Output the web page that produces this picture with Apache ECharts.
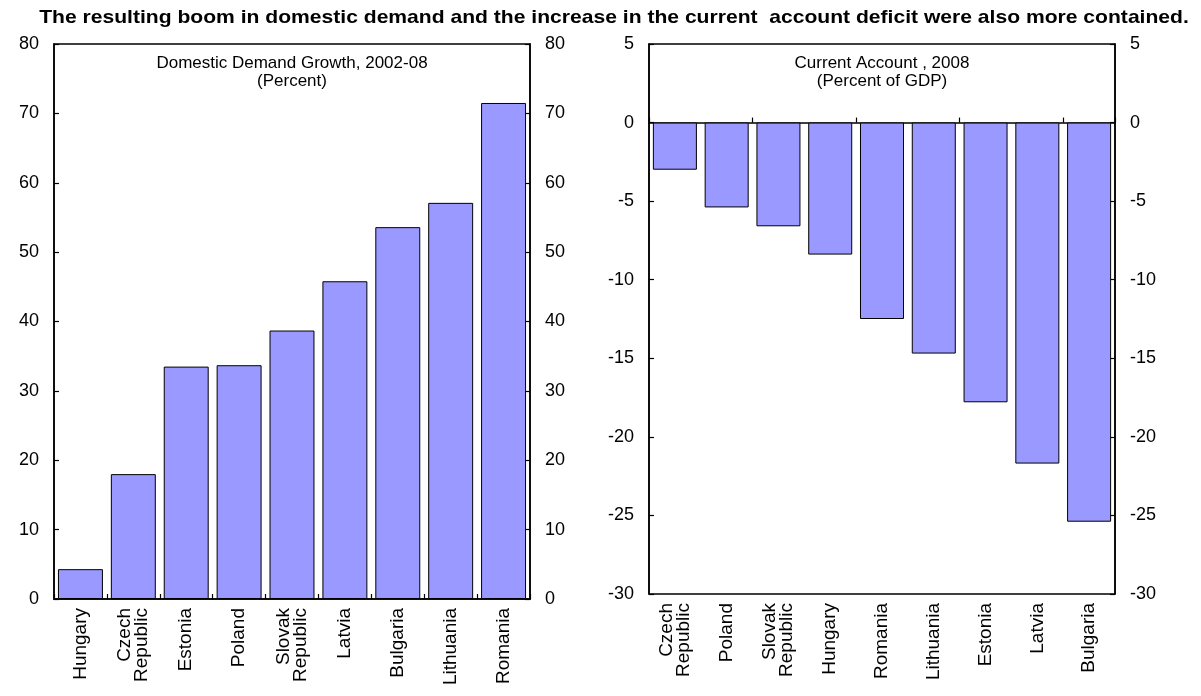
<!DOCTYPE html>
<html>
<head>
<meta charset="utf-8">
<script src="https://cdn.jsdelivr.net/npm/echarts@6/dist/echarts.min.js"></script>
<style>
  html, body { margin: 0; padding: 0; background: #fff; }
  #chart { width: 1201px; height: 696px; }
</style>
</head>
<body>
<div id="chart"></div>
<script>
// Domestic demand growth 2002-08 (percent)
const demandCountries = ['Hungary', 'Czech\nRepublic', 'Estonia', 'Poland', 'Slovak\nRepublic', 'Latvia', 'Bulgaria', 'Lithuania', 'Romania'];
const demandGrowth = [4.3, 18.0, 33.5, 33.7, 38.7, 45.8, 53.6, 57.1, 71.5];

// Current account balance 2008 (percent of GDP)
const caCountries = ['Czech\nRepublic', 'Poland', 'Slovak\nRepublic', 'Hungary', 'Romania', 'Lithuania', 'Estonia', 'Latvia', 'Bulgaria'];
const caBalance = [-3.0, -5.4, -6.6, -8.4, -12.5, -14.7, -17.8, -21.7, -25.4];

const headline = 'The resulting boom in domestic demand and the increase in the current  account deficit were also more contained.';
const leftTitle = ['Domestic Demand Growth, 2002-08', '(Percent)'];
const rightTitle = ['Current Account , 2008', '(Percent of GDP)'];

const FONT = '"Liberation Sans", Arial, sans-serif';
const BAR = '#9999FF';

function valueAxis(grid, pos, min, max, step) {
  return {
    type: 'value', gridIndex: grid, position: pos, min: min, max: max, interval: step,
    axisLine: { show: true, onZero: false, lineStyle: { color: '#000', width: 1.5 } },
    axisTick: { show: true, inside: true, length: 5, lineStyle: { color: '#000', width: 1.2 } },
    splitLine: { show: false },
    axisLabel: { color: '#000', fontSize: 18, fontFamily: FONT, margin: 15 }
  };
}

const catLabel = {
  rotate: 90, color: '#000', fontSize: 19, fontFamily: FONT, lineHeight: 17, margin: 9, interval: 0
};

const option = {
  backgroundColor: '#fff',
  animation: false,
  graphic: [
    { type: 'text', x: 614, y: 8, scaleX: 1.11,
      style: { text: headline, font: 'bold 19px ' + FONT, fill: '#000', align: 'center' } },
    { type: 'text', x: 292, y: 54,
      style: { text: leftTitle.join('\n'), font: '17px ' + FONT, fill: '#000', align: 'center', lineHeight: 18 } },
    { type: 'text', x: 882, y: 54,
      style: { text: rightTitle.join('\n'), font: '17px ' + FONT, fill: '#000', align: 'center', lineHeight: 18 } }
  ],
  grid: [
    { left: 54, top: 44, width: 476, height: 555, show: true, borderColor: '#000', borderWidth: 1.5, backgroundColor: 'transparent' },
    { left: 649, top: 44, width: 466, height: 550, show: true, borderColor: '#000', borderWidth: 1.5, backgroundColor: 'transparent' }
  ],
  xAxis: [
    { type: 'category', gridIndex: 0, data: demandCountries, position: 'bottom',
      axisLine: { show: true, lineStyle: { color: '#000', width: 1.5 } },
      axisTick: { show: true, inside: true, length: 5, lineStyle: { color: '#000', width: 1.2 } },
      axisLabel: catLabel },
    { type: 'category', gridIndex: 1, data: caCountries, position: 'bottom',
      axisLine: { show: true, onZero: true, lineStyle: { color: '#000', width: 1.5 } },
      axisTick: { show: true, inside: true, length: 5, lineStyle: { color: '#000', width: 1.2 } },
      axisLabel: { show: false } },
    { type: 'category', gridIndex: 1, data: caCountries, position: 'bottom',
      axisLine: { show: false, onZero: false },
      axisTick: { show: false },
      axisLabel: catLabel }
  ],
  yAxis: [
    valueAxis(0, 'left', 0, 80, 10),
    valueAxis(0, 'right', 0, 80, 10),
    valueAxis(1, 'left', -30, 5, 5),
    valueAxis(1, 'right', -30, 5, 5)
  ],
  series: [
    { type: 'bar', xAxisIndex: 0, yAxisIndex: 0, data: demandGrowth, barCategoryGap: '15%',
      itemStyle: { color: BAR, borderColor: '#000', borderWidth: 1 } },
    { type: 'bar', xAxisIndex: 1, yAxisIndex: 2, data: caBalance, barCategoryGap: '15%',
      itemStyle: { color: BAR, borderColor: '#000', borderWidth: 1 } }
  ]
};

echarts.init(document.getElementById('chart'), null, { renderer: 'canvas' }).setOption(option);
</script>
</body>
</html>
